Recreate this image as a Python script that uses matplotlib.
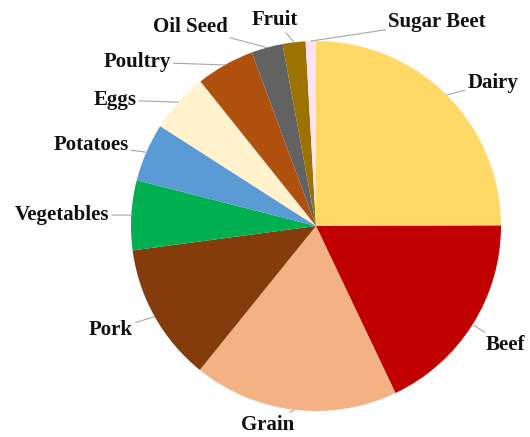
import numpy as np
import matplotlib
matplotlib.use("Agg")
import matplotlib.pyplot as plt

categories = ["Dairy", "Beef", "Grain", "Pork", "Vegetables", "Potatoes",
              "Eggs", "Poultry", "Oil Seed", "Fruit", "Sugar Beet"]
values = [25.0, 18.0, 17.9, 12.1, 6.1, 5.1, 5.2, 5.1, 2.75, 2.0, 0.9]
colors = ["#FFD966", "#C00000", "#F4B183", "#843C0C", "#00B050", "#5B9BD5",
          "#FFF2CC", "#B0500F", "#626262", "#9C7300", "#FDE2F3"]

# label positions in pixels (layout)
label_px = {
    "Dairy": (493, 83), "Beef": (505, 345), "Grain": (268, 425),
    "Pork": (111, 330), "Vegetables": (62, 215), "Potatoes": (91, 145),
    "Eggs": (115, 100), "Poultry": (137, 62), "Oil Seed": (190, 27),
    "Fruit": (275, 20), "Sugar Beet": (437, 22),
}

W, H = 530, 437
cx, cy, R = 316, 226, 185

fig = plt.figure(figsize=(W / 100, H / 100), dpi=100)
ax = fig.add_axes([0, 0, 1, 1])

wedges, _ = ax.pie(values, colors=colors, startangle=90, counterclock=False,
                   radius=1.0, center=(0, 0), frame=True,
                   wedgeprops=dict(linewidth=0))
ax.set_xlim(-cx / R, (W - cx) / R)
ax.set_ylim((cy - H) / R, cy / R)
ax.axis("off")

for w, name in zip(wedges, categories):
    ang = np.deg2rad((w.theta1 + w.theta2) / 2)
    ax_x, ax_y = np.cos(ang), np.sin(ang)
    px, py = label_px[name]
    tx, ty = (px - cx) / R, (cy - py) / R
    ax.annotate(name, xy=(ax_x, ax_y), xytext=(tx, ty),
                ha="center", va="center", fontsize=15, fontweight="bold",
                family="Liberation Serif", color="#111111",
                arrowprops=dict(arrowstyle="-", color="#A6A6A6", lw=0.8,
                                shrinkA=0, shrinkB=0))

fig.savefig("out.png", dpi=100)
